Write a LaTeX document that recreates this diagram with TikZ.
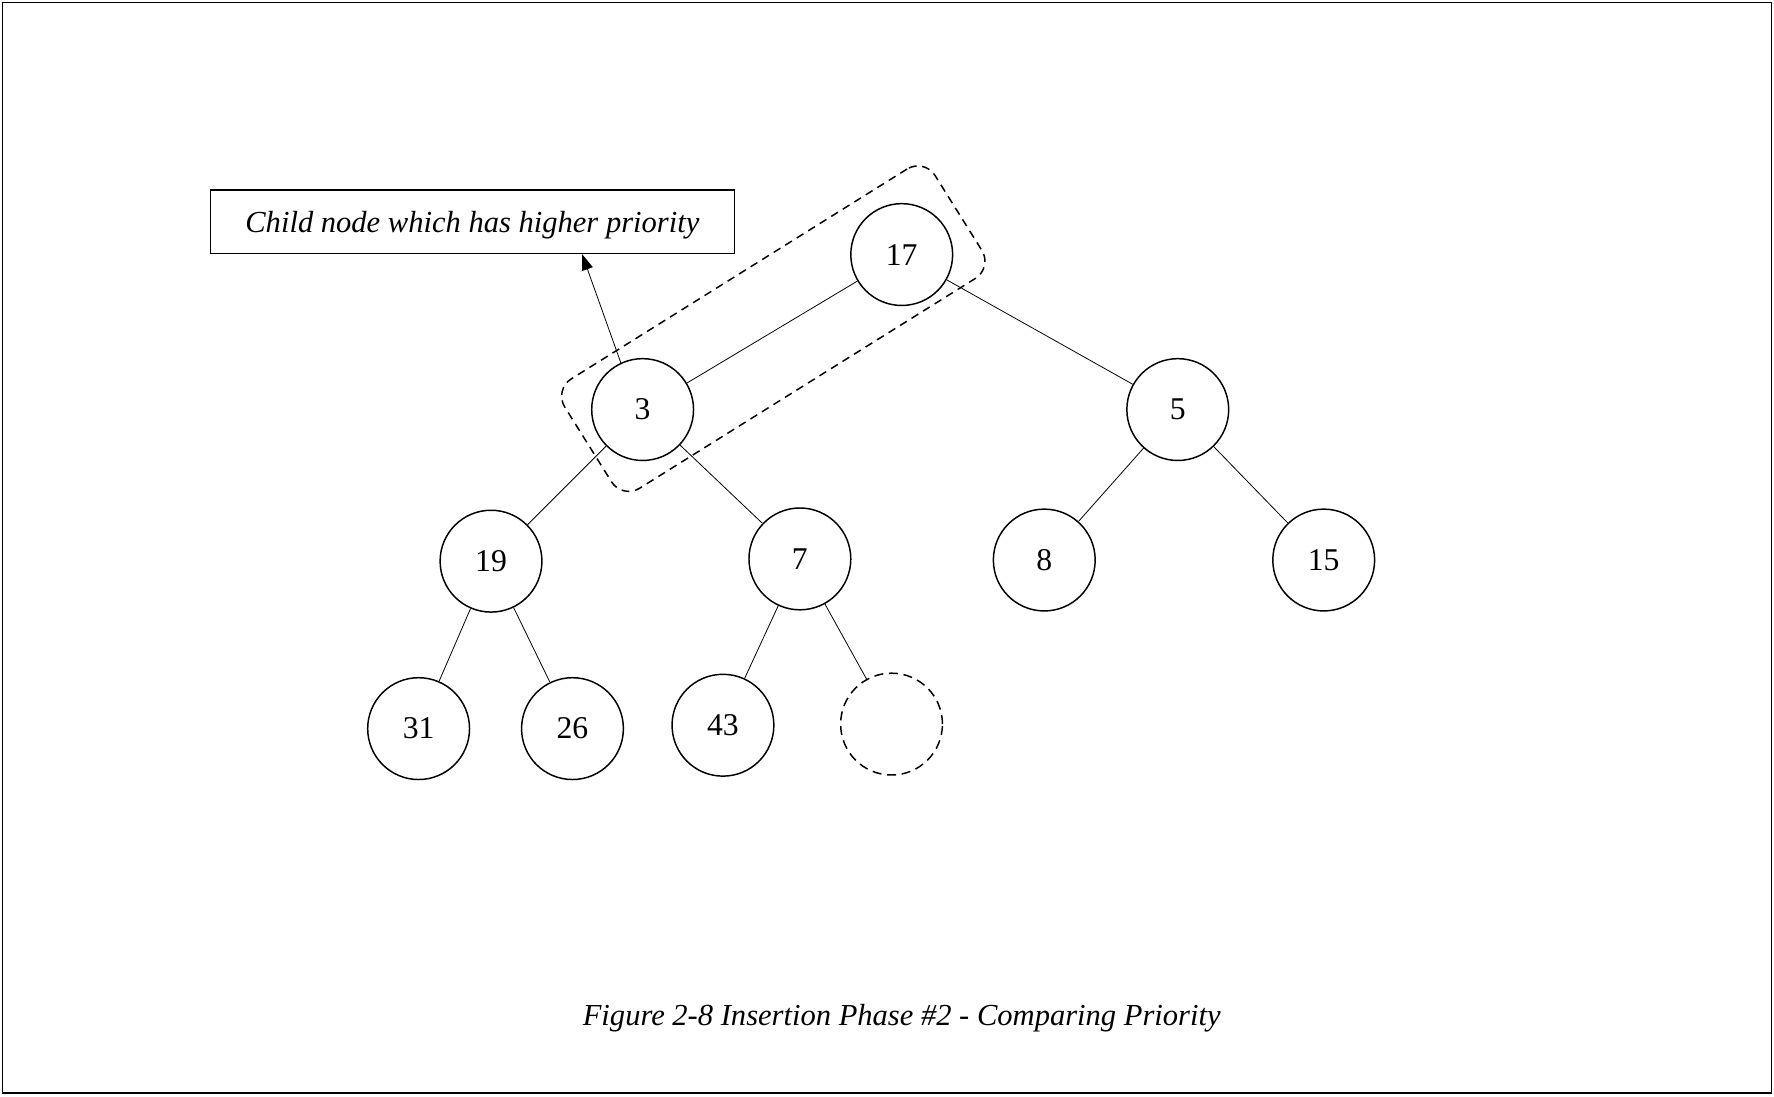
\documentclass[tikz,border=0pt]{standalone}
\usepackage{fontspec}
\setmainfont{Liberation Serif}
\usetikzlibrary{positioning}
\usetikzlibrary{arrows.meta}
\usetikzlibrary{calc}

\begin{document}
\begin{tikzpicture}[x=1pt,y=-1pt,>={Triangle[length=14pt,width=10pt]},
  heap node/.style={circle,draw,line width=1.3pt,minimum size=90pt,inner sep=0pt,font=\fontsize{28}{32}\selectfont},
  empty node/.style={heap node,dash pattern=on 8pt off 5pt},
  link/.style={draw,line width=0.7pt},
  label text/.style={font=\itshape\fontsize{27}{31}\selectfont}]
  \useasboundingbox (0,0) rectangle (1568,969);
  \draw[line width=1.3pt] (2,2) rectangle (1566,966);

  % heap
  \node[heap node] (n17) at (797,225) {17};
  \node[heap node] (n3) at (568,362) {3};
  \node[heap node] (n5) at (1041,362) {5};
  \node[heap node] (n19) at (434,496) {19};
  \node[heap node] (n7) at (707,494) {7};
  \node[heap node] (n8) at (923,495) {8};
  \node[heap node] (n15) at (1170,495) {15};
  \node[heap node] (n31) at (370,644) {31};
  \node[heap node] (n26) at (506,644) {26};
  \node[heap node] (n43) at (639,641) {43};
  \node[empty node] (new) at (788,640) {};

  \path (n17) edge[link] (n3) edge[link] (n5)
        (n3) edge[link] (n19) edge[link] (n7)
        (n5) edge[link] (n8) edge[link] (n15)
        (n19) edge[link] (n31) edge[link] (n26)
        (n7) edge[link] (n43) edge[link] (new);

  % compared pair
  \node[draw,line width=1.3pt,dash pattern=on 7pt off 5pt,rounded corners=18pt,rotate=32,
        minimum width=386pt,minimum height=114pt] (pair) at ($(n3)!0.5!(n17)+(1,-3)$) {};

  % note
  \node[draw,line width=1.3pt,minimum width=463pt,minimum height=56pt] (note) at (417.5,196) {};
  \node[label text] (notetext) at (417.5,199) {Child node which has higher priority};
  \coordinate (tip) at ([xshift=97pt]note.south);
  \draw[->,link] (n3.115) -- (tip);

  \node[label text] (caption) at (797,900) {Figure 2-8 Insertion Phase \#2 - Comparing Priority};
\end{tikzpicture}
\end{document}
